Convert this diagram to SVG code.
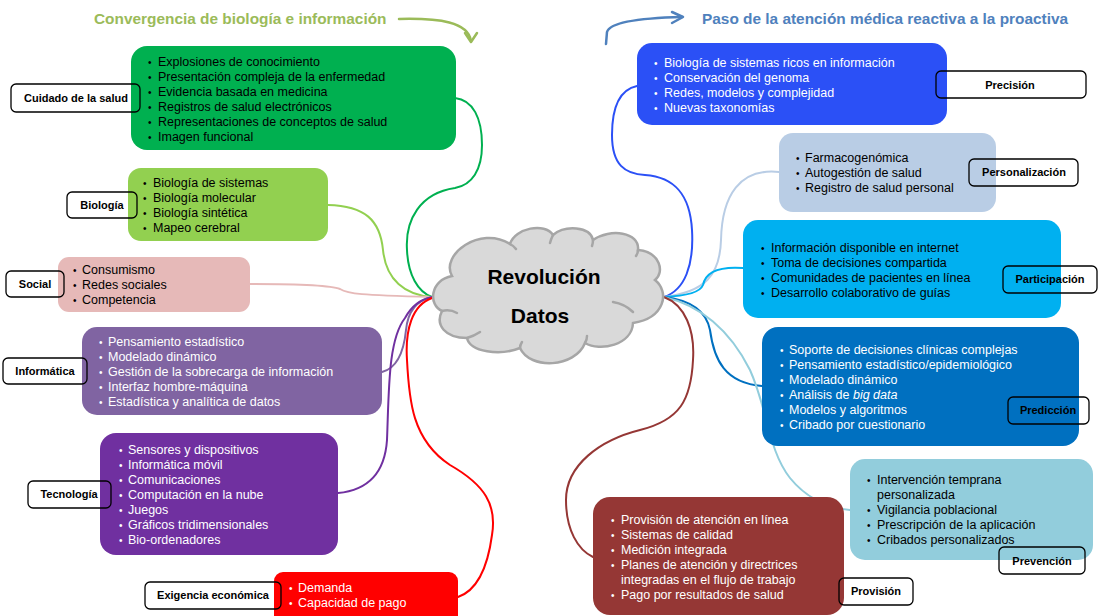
<svg xmlns="http://www.w3.org/2000/svg" width="1102" height="616" viewBox="0 0 1102 616">
  <style>
    .t { font-family: "Liberation Sans", Arial, sans-serif; font-size: 12.5px; }
    .t tspan:first-child { font-size: 10px; }
    .k { fill: #000; }
    .w { fill: #fff; }
    .box { stroke: none; }
    .lbl rect { fill: none; stroke: #000; stroke-width: 1.3; }
    .lbl text { font-family: "Liberation Sans", Arial, sans-serif; font-size: 11px; font-weight: bold; text-anchor: middle; fill: #000; }
    .hd { font-family: "Liberation Sans", Arial, sans-serif; font-size: 15.4px; font-weight: bold; }
    .con path { fill: none; stroke-width: 2; stroke-linecap: round; }
    .cloudArc { fill: none; stroke: #A6A6A6; stroke-width: 2.5; stroke-linecap: round; }
  </style>
  <rect width="1102" height="616" fill="#fff"/>

  <!-- section headings with their arrows -->
  <g id="heading-left">
    <text class="hd" x="94" y="24" fill="#9BBB59">Convergencia de biología e información</text>
    <path d="M399,19 C440,18 468,22 471,41" fill="none" stroke="#9BBB59" stroke-width="2.5" stroke-linecap="round"/>
    <path d="M465,33 L471,42 L477,33" fill="none" stroke="#9BBB59" stroke-width="2.5" stroke-linecap="round" stroke-linejoin="round"/>
  </g>
  <g id="heading-right">
    <text class="hd" x="702" y="24" fill="#4F81BD">Paso de la atención médica reactiva a la proactiva</text>
    <path d="M606,44 L607,32 C610,22 640,18 682,17" fill="none" stroke="#4F81BD" stroke-width="2.5" stroke-linecap="round"/>
    <path d="M672,12 L683,17 L672,23" fill="none" stroke="#4F81BD" stroke-width="2.5" stroke-linecap="round" stroke-linejoin="round"/>
  </g>

  <!-- branches from the central cloud -->
  <g id="connectors" class="con">
    <path d="M455,98 C473,100 482,118 482,145 C482,170 472,185 455,188 C420,193 405,220 407,250 C408,275 418,292 432,297" stroke="#00B050"/>
    <path d="M328,205 C365,206 380,220 383,250 C386,280 405,295 432,297" stroke="#92D050"/>
    <path d="M250,284 C300,284 330,285 340,289 C348,294 360,295 432,297" stroke="#E6B9B8"/>
    <path d="M382,372 C398,368 404,350 406,330 C408,310 418,300 432,297" stroke="#8064A2"/>
    <path d="M338,493 C370,490 385,470 387,440 C389,390 388,340 405,318 C412,305 422,299 432,297" stroke="#7030A0"/>
    <path d="M432,298 C412,305 405,330 407,360 C409,400 412,440 450,465 C485,485 497,505 492,535 C488,565 478,590 458,597" stroke="#FF0000"/>
    <path d="M637,86 C618,90 612,110 612,135 C612,165 625,174 645,175 C675,177 690,195 692,230 C694,265 685,290 664,297" stroke="#2B50F6"/>
    <path d="M779,172 C740,168 722,195 721,240 C720,275 705,292 664,297" stroke="#B9CDE5"/>
    <path d="M743,268 C715,266 705,275 703,285 C700,293 685,296 664,297" stroke="#00B0F0"/>
    <path d="M664,297 C690,300 706,310 710,330 C714,360 725,383 762,386" stroke="#0070C0"/>
    <path d="M664,297 C700,305 730,330 750,370 C768,410 768,450 790,478 C808,500 830,508 850,510" stroke="#92CDDC"/>
    <path d="M664,297 C685,305 695,330 693,360 C691,400 680,420 640,430 C600,440 566,465 566,500 C566,530 578,550 593,557" stroke="#953735"/>
  </g>

  <!-- central cloud -->
  <g id="center">
    <path d="M452,276 C440,255 480,225 510,244 C515,228 545,222 553,235 C565,225 590,226 593,240 C610,228 640,232 638,250 C660,252 665,272 655,280 C670,292 665,318 633,323 C632,345 600,352 585,343 C575,368 530,370 520,348 C500,356 470,352 467,338 C445,338 435,325 442,311 C428,305 430,280 452,276 Z" fill="#D9D9D9" stroke="#A6A6A6" stroke-width="2.5"/>
    <path class="cloudArc" d="M442,311 Q450,309 457,313"/>
    <path class="cloudArc" d="M467,338 Q474,336 480,332"/>
    <path class="cloudArc" d="M520,348 Q520,345 522,342"/>
    <path class="cloudArc" d="M585,343 Q587,340 587,336"/>
    <path class="cloudArc" d="M613,302 Q625,304 633,312"/>
    <path class="cloudArc" d="M510,244 Q514,246 516,249"/>
    <path class="cloudArc" d="M553,235 Q551,239 550,243"/>
    <path class="cloudArc" d="M593,240 Q593,243 592,246"/>
    <path class="cloudArc" d="M638,250 Q638,253 636,256"/>
    <text x="544" y="284" font-family="Liberation Sans, Arial, sans-serif" font-size="21" font-weight="bold" text-anchor="middle" fill="#000">Revolución</text>
    <text x="540" y="323" font-family="Liberation Sans, Arial, sans-serif" font-size="21" font-weight="bold" text-anchor="middle" fill="#000">Datos</text>
  </g>

  <!-- left-hand topics -->
  <g id="cuidado">
    <rect class="box" x="131" y="46" width="325" height="104" rx="16" fill="#00B050"/>
    <text class="t k"><tspan x="148" y="66">•</tspan><tspan x="158">Explosiones de conocimiento</tspan></text>
    <text class="t k"><tspan x="148" y="81">•</tspan><tspan x="158">Presentación compleja de la enfermedad</tspan></text>
    <text class="t k"><tspan x="148" y="96">•</tspan><tspan x="158">Evidencia basada en medicina</tspan></text>
    <text class="t k"><tspan x="148" y="111">•</tspan><tspan x="158">Registros de salud electrónicos</tspan></text>
    <text class="t k"><tspan x="148" y="126">•</tspan><tspan x="158">Representaciones de conceptos de salud</tspan></text>
    <text class="t k"><tspan x="148" y="141">•</tspan><tspan x="158">Imagen funcional</tspan></text>
    <g class="lbl"><rect x="11" y="84" width="129" height="28" rx="5"/><text x="76" y="102">Cuidado de la salud</text></g>
  </g>

  <g id="biologia">
    <rect class="box" x="128" y="168" width="200" height="73" rx="13" fill="#92D050"/>
    <text class="t k"><tspan x="143" y="187">•</tspan><tspan x="153">Biología de sistemas</tspan></text>
    <text class="t k"><tspan x="143" y="202">•</tspan><tspan x="153">Biología molecular</tspan></text>
    <text class="t k"><tspan x="143" y="217">•</tspan><tspan x="153">Biología sintética</tspan></text>
    <text class="t k"><tspan x="143" y="232">•</tspan><tspan x="153">Mapeo cerebral</tspan></text>
    <g class="lbl"><rect x="67" y="192" width="70" height="26" rx="5"/><text x="102" y="209">Biología</text></g>
  </g>

  <g id="social">
    <rect class="box" x="58" y="257" width="192" height="55" rx="11" fill="#E6B9B8"/>
    <text class="t k"><tspan x="73" y="274">•</tspan><tspan x="82">Consumismo</tspan></text>
    <text class="t k"><tspan x="73" y="289">•</tspan><tspan x="82">Redes sociales</tspan></text>
    <text class="t k"><tspan x="73" y="304">•</tspan><tspan x="82">Competencia</tspan></text>
    <g class="lbl"><rect x="6" y="271" width="58" height="26" rx="5"/><text x="35" y="288">Social</text></g>
  </g>

  <g id="informatica">
    <rect class="box" x="82" y="327" width="300" height="88" rx="15" fill="#8064A2"/>
    <text class="t w"><tspan x="99" y="346">•</tspan><tspan x="108">Pensamiento estadístico</tspan></text>
    <text class="t w"><tspan x="99" y="361">•</tspan><tspan x="108">Modelado dinámico</tspan></text>
    <text class="t w"><tspan x="99" y="376">•</tspan><tspan x="108">Gestión de la sobrecarga de información</tspan></text>
    <text class="t w"><tspan x="99" y="391">•</tspan><tspan x="108">Interfaz hombre-máquina</tspan></text>
    <text class="t w"><tspan x="99" y="406">•</tspan><tspan x="108">Estadística y analítica de datos</tspan></text>
    <g class="lbl"><rect x="3" y="358" width="84" height="26" rx="5"/><text x="45" y="375">Informática</text></g>
  </g>

  <g id="tecnologia">
    <rect class="box" x="100" y="433" width="238" height="122" rx="16" fill="#7030A0"/>
    <text class="t w"><tspan x="119" y="454">•</tspan><tspan x="128">Sensores y dispositivos</tspan></text>
    <text class="t w"><tspan x="119" y="469">•</tspan><tspan x="128">Informática móvil</tspan></text>
    <text class="t w"><tspan x="119" y="484">•</tspan><tspan x="128">Comunicaciones</tspan></text>
    <text class="t w"><tspan x="119" y="499">•</tspan><tspan x="128">Computación en la nube</tspan></text>
    <text class="t w"><tspan x="119" y="514">•</tspan><tspan x="128">Juegos</tspan></text>
    <text class="t w"><tspan x="119" y="529">•</tspan><tspan x="128">Gráficos tridimensionales</tspan></text>
    <text class="t w"><tspan x="119" y="544">•</tspan><tspan x="128">Bio-ordenadores</tspan></text>
    <g class="lbl"><rect x="28" y="481" width="83" height="27" rx="5"/><text x="69" y="498">Tecnología</text></g>
  </g>

  <g id="exigencia">
    <rect class="box" x="274" y="572" width="184" height="60" rx="9" fill="#FF0000"/>
    <text class="t w"><tspan x="289" y="592">•</tspan><tspan x="298">Demanda</tspan></text>
    <text class="t w"><tspan x="289" y="607">•</tspan><tspan x="298">Capacidad de pago</tspan></text>
    <g class="lbl"><rect x="145" y="582" width="136" height="27" rx="5"/><text x="213" y="599">Exigencia económica</text></g>
  </g>

  <!-- right-hand topics -->
  <g id="precision">
    <rect class="box" x="637" y="43" width="310" height="82" rx="15" fill="#2B50F6"/>
    <text class="t w"><tspan x="654" y="67">•</tspan><tspan x="664">Biología de sistemas ricos en información</tspan></text>
    <text class="t w"><tspan x="654" y="82">•</tspan><tspan x="664">Conservación del genoma</tspan></text>
    <text class="t w"><tspan x="654" y="97">•</tspan><tspan x="664">Redes, modelos y complejidad</tspan></text>
    <text class="t w"><tspan x="654" y="112">•</tspan><tspan x="664">Nuevas taxonomías</tspan></text>
    <g class="lbl"><rect x="936" y="71" width="150" height="27" rx="5"/><text x="1010" y="89">Precisión</text></g>
  </g>

  <g id="personalizacion">
    <rect class="box" x="779" y="133" width="217" height="79" rx="14" fill="#B9CDE5"/>
    <text class="t k"><tspan x="796" y="162">•</tspan><tspan x="805">Farmacogenómica</tspan></text>
    <text class="t k"><tspan x="796" y="177">•</tspan><tspan x="805">Autogestión de salud</tspan></text>
    <text class="t k"><tspan x="796" y="192">•</tspan><tspan x="805">Registro de salud personal</tspan></text>
    <g class="lbl"><rect x="969" y="159" width="109" height="27" rx="5"/><text x="1024" y="176">Personalización</text></g>
  </g>

  <g id="participacion">
    <rect class="box" x="743" y="220" width="318" height="98" rx="15" fill="#00B0F0"/>
    <text class="t k"><tspan x="761" y="252">•</tspan><tspan x="771">Información disponible en internet</tspan></text>
    <text class="t k"><tspan x="761" y="267">•</tspan><tspan x="771">Toma de decisiones compartida</tspan></text>
    <text class="t k"><tspan x="761" y="282">•</tspan><tspan x="771">Comunidades de pacientes en línea</tspan></text>
    <text class="t k"><tspan x="761" y="297">•</tspan><tspan x="771">Desarrollo colaborativo de guías</tspan></text>
    <g class="lbl"><rect x="1003" y="266" width="94" height="27" rx="5"/><text x="1050" y="283">Participación</text></g>
  </g>

  <g id="prediccion">
    <rect class="box" x="762" y="327" width="317" height="119" rx="16" fill="#0070C0"/>
    <text class="t w"><tspan x="780" y="354">•</tspan><tspan x="789">Soporte de decisiones clínicas complejas</tspan></text>
    <text class="t w"><tspan x="780" y="369">•</tspan><tspan x="789">Pensamiento estadístico/epidemiológico</tspan></text>
    <text class="t w"><tspan x="780" y="384">•</tspan><tspan x="789">Modelado dinámico</tspan></text>
    <text class="t w"><tspan x="780" y="399">•</tspan><tspan x="789">Análisis de </tspan><tspan font-style="italic">big data</tspan></text>
    <text class="t w"><tspan x="780" y="414">•</tspan><tspan x="789">Modelos y algoritmos</tspan></text>
    <text class="t w"><tspan x="780" y="429">•</tspan><tspan x="789">Cribado por cuestionario</tspan></text>
    <g class="lbl"><rect x="1008" y="397" width="81" height="27" rx="5"/><text x="1048" y="414">Predicción</text></g>
  </g>

  <g id="prevencion">
    <rect class="box" x="850" y="459" width="243" height="101" rx="15" fill="#92CDDC"/>
    <text class="t k"><tspan x="867" y="484">•</tspan><tspan x="877">Intervención temprana</tspan></text>
    <text class="t k" x="877" y="499">personalizada</text>
    <text class="t k"><tspan x="867" y="514">•</tspan><tspan x="877">Vigilancia poblacional</tspan></text>
    <text class="t k"><tspan x="867" y="529">•</tspan><tspan x="877">Prescripción de la aplicación</tspan></text>
    <text class="t k"><tspan x="867" y="544">•</tspan><tspan x="877">Cribados personalizados</tspan></text>
    <g class="lbl"><rect x="999" y="547" width="86" height="27" rx="5"/><text x="1042" y="565">Prevención</text></g>
  </g>

  <g id="provision">
    <rect class="box" x="593" y="497" width="251" height="118" rx="17" fill="#953735"/>
    <text class="t w"><tspan x="611" y="524">•</tspan><tspan x="621">Provisión de atención en línea</tspan></text>
    <text class="t w"><tspan x="611" y="539">•</tspan><tspan x="621">Sistemas de calidad</tspan></text>
    <text class="t w"><tspan x="611" y="554">•</tspan><tspan x="621">Medición integrada</tspan></text>
    <text class="t w"><tspan x="611" y="569">•</tspan><tspan x="621">Planes de atención y directrices</tspan></text>
    <text class="t w" x="621" y="584">integradas en el flujo de trabajo</text>
    <text class="t w"><tspan x="611" y="599">•</tspan><tspan x="621">Pago por resultados de salud</tspan></text>
    <g class="lbl"><rect x="839" y="578" width="74" height="27" rx="5"/><text x="876" y="595">Provisión</text></g>
  </g>
</svg>
